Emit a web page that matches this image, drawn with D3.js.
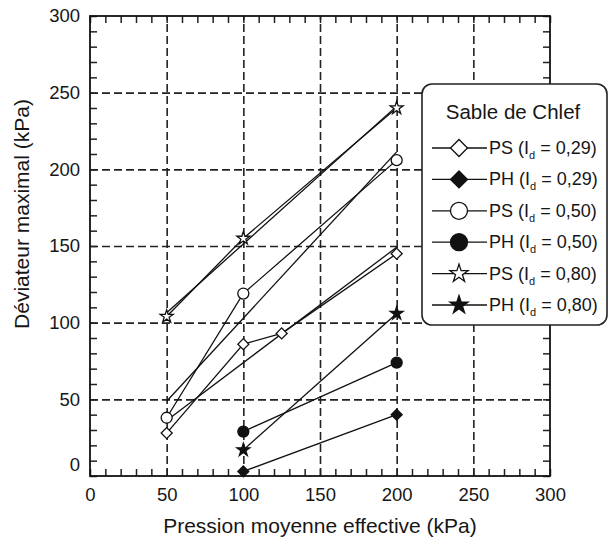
<!DOCTYPE html>
<html>
<head>
<meta charset="utf-8">
<script src="https://cdn.jsdelivr.net/npm/d3@7"></script>
<style>
body { margin: 0; background: #fff; }
text { font-family: "Liberation Sans", Arial, sans-serif; fill: #161616; }
</style>
</head>
<body>
<svg id="chart" width="610" height="540"></svg>
<script>

// axis ticks
var xTicks = [0, 50, 100, 150, 200, 250, 300];
var yTicks = [0, 50, 100, 150, 200, 250, 300];

// PS = open markers, PH = filled markers
var ps29X = [50, 100, 125, 200], ps29Y = [28, 86, 93, 145];
var ph29X = [100, 200],          ph29Y = [3, 40];
var ps50X = [50, 100, 200],      ps50Y = [38, 119, 206];
var ph50X = [100, 200],          ph50Y = [29, 74];
var ps80X = [50, 100, 200],      ps80Y = [104, 155, 240];
var ph80X = [100, 200],          ph80Y = [17, 106];

var legendTitle = "Sable de Chlef";
var idValues = ["0,29", "0,29", "0,50", "0,50", "0,80", "0,80"];
var testNames = ["PS", "PH", "PS", "PH", "PS", "PH"];

var series = [
	{xs: ps29X, ys: ps29Y, shape: "diamond", filled: false, trend: true},
	{xs: ph29X, ys: ph29Y, shape: "diamond", filled: true,  trend: false},
	{xs: ps50X, ys: ps50Y, shape: "circle",  filled: false, trend: true},
	{xs: ph50X, ys: ph50Y, shape: "circle",  filled: true,  trend: false},
	{xs: ps80X, ys: ps80Y, shape: "star",    filled: false, trend: true},
	{xs: ph80X, ys: ph80Y, shape: "star",    filled: true,  trend: false}
];

// (window.top is read-only, so no "top" here)
var pLeft = 90, pRight = 550, pTop = 16, pBottom = 476;
var svg = d3.select("#chart");

var x = d3.scaleLinear().domain([0, 300]).range([pLeft, pRight]);
var y = d3.scaleLinear().domain([0, 300]).range([pBottom, pTop]);

// dashed grid at the major ticks
var grid = svg.append("g").attr("class", "grid");
grid.append("g")
	.attr("transform", "translate(0," + pBottom + ")")
	.call(d3.axisBottom(x).tickValues(xTicks.slice(1, -1)).tickSize(-(pBottom - pTop)).tickFormat(""));
grid.append("g")
	.attr("transform", "translate(" + pLeft + ",0)")
	.call(d3.axisLeft(y).tickValues(yTicks.slice(1, -1)).tickSize(-(pRight - pLeft)).tickFormat(""));
grid.selectAll(".domain").remove();
grid.selectAll("line")
	.attr("stroke", "#222")
	.attr("stroke-width", 1.6)
	.attr("stroke-dasharray", "8,4");

// small inward ticks every 10 on all four sides
var minor = d3.range(0, 301, 10);
var ticks = svg.append("g").attr("class", "minor");
ticks.append("g").attr("transform", "translate(0," + pBottom + ")")
	.call(d3.axisBottom(x).tickValues(minor).tickSize(-7).tickFormat(""));
ticks.append("g").attr("transform", "translate(0," + pTop + ")")
	.call(d3.axisTop(x).tickValues(minor).tickSize(-7).tickFormat(""));
ticks.append("g").attr("transform", "translate(" + pLeft + ",0)")
	.call(d3.axisLeft(y).tickValues(minor).tickSize(-7).tickFormat(""));
ticks.append("g").attr("transform", "translate(" + pRight + ",0)")
	.call(d3.axisRight(y).tickValues(minor).tickSize(-7).tickFormat(""));
ticks.selectAll(".domain").remove();
ticks.selectAll("line").attr("stroke", "#222").attr("stroke-width", 1.5);

svg.append("rect")
	.attr("x", pLeft).attr("y", pTop)
	.attr("width", pRight - pLeft).attr("height", pBottom - pTop)
	.attr("fill", "none").attr("stroke", "#111").attr("stroke-width", 1.8);

// tick labels
var xLab = svg.append("g")
	.attr("transform", "translate(0," + pBottom + ")")
	.call(d3.axisBottom(x).tickValues(xTicks).tickSize(0).tickPadding(12));
var yLab = svg.append("g")
	.attr("transform", "translate(" + pLeft + ",0)")
	.call(d3.axisLeft(y).tickValues(yTicks).tickSize(0).tickPadding(10));
xLab.select(".domain").remove();
yLab.select(".domain").remove();
xLab.selectAll("text").style("font-size", "18.5px").attr("fill", "#161616")
	.style("font-family", "'Liberation Sans', Arial, sans-serif");
yLab.selectAll("text").style("font-size", "18.5px").attr("fill", "#161616")
	.style("font-family", "'Liberation Sans', Arial, sans-serif")
	.attr("dy", function(d) { return d === 0 ? "-0.3em" : "0.32em"; });

svg.append("text")
	.attr("x", 320).attr("y", 533)
	.attr("text-anchor", "middle")
	.style("font-size", "21px")
	.text("Pression moyenne effective (kPa)");
svg.append("text")
	.attr("transform", "translate(29,214) rotate(-90)")
	.attr("text-anchor", "middle")
	.style("font-size", "21px")
	.text("Déviateur maximal (kPa)");

// least squares line through a PS series
function fit(xs, ys) {
	var mx = d3.mean(xs), my = d3.mean(ys);
	var sxy = d3.sum(xs, function(v, i) { return (v - mx) * (ys[i] - my); });
	var sxx = d3.sum(xs, function(v) { return (v - mx) * (v - mx); });
	var b = sxy / sxx;
	return function(v) { return my + b * (v - mx); };
}

function symbolFor(shape, r) {
	if (shape === "diamond") return d3.symbol().type(d3.symbolSquare).size(2 * r * r)();
	if (shape === "circle") return d3.symbol().type(d3.symbolCircle).size(Math.PI * r * r)();
	return d3.symbol().type(d3.symbolStar).size(r * r / 0.8908130915292852)();
}
var plotR = {diamond: 5.5, circle: 5.5, star: 6.8};
var legR = {diamond: 8.5, circle: 8.5, star: 9.5};

var line = d3.line()
	.x(function(d) { return x(d[0]); })
	.y(function(d) { return y(d[1]); });

var marks = svg.append("g").attr("class", "series");
series.forEach(function(s) {
	var pts = s.xs.map(function(v, i) { return [v, s.ys[i]]; });
	marks.append("path")
		.attr("d", line(pts))
		.attr("fill", "none").attr("stroke", "#111").attr("stroke-width", 1.3);
	if (s.trend) {
		var f = fit(s.xs, s.ys);
		var ext = d3.extent(s.xs);
		marks.append("path")
			.attr("d", line([[ext[0], f(ext[0])], [ext[1], f(ext[1])]]))
			.attr("fill", "none").attr("stroke", "#111").attr("stroke-width", 1.3);
	}
});
series.forEach(function(s) {
	marks.append("g").selectAll("path")
		.data(s.xs.map(function(v, i) { return [v, s.ys[i]]; }))
		.join("path")
		.attr("d", symbolFor(s.shape, plotR[s.shape]))
		.attr("transform", function(d) {
			return "translate(" + x(d[0]) + "," + y(d[1]) + ")" + (s.shape === "diamond" ? " rotate(45)" : "");
		})
		.attr("fill", s.filled ? "#111" : "#fff")
		.attr("stroke", "#111").attr("stroke-width", 1.3);
});

// legend
var leg = svg.append("g").attr("class", "legend");
leg.append("rect")
	.attr("x", 422).attr("y", 84).attr("width", 185).attr("height", 241)
	.attr("rx", 10).attr("ry", 10)
	.attr("fill", "#fff").attr("stroke", "#222").attr("stroke-width", 1.6);
leg.append("text")
	.attr("x", 513).attr("y", 119)
	.attr("text-anchor", "middle")
	.style("font-size", "20.5px")
	.text(legendTitle);

var rows = leg.selectAll("g.row")
	.data(series)
	.join("g")
	.attr("class", "row")
	.attr("transform", function(d, i) { return "translate(0," + (148 + i * 31.4) + ")"; });
rows.append("line")
	.attr("x1", 432).attr("x2", 487)
	.attr("stroke", "#111").attr("stroke-width", 1.3);
rows.append("path")
	.attr("d", function(d) { return symbolFor(d.shape, legR[d.shape]); })
	.attr("transform", function(d) { return "translate(459,0)" + (d.shape === "diamond" ? " rotate(45)" : ""); })
	.attr("fill", function(d) { return d.filled ? "#111" : "#fff"; })
	.attr("stroke", "#111").attr("stroke-width", 1.3);
var lt = rows.append("text")
	.attr("x", 489).attr("y", 6)
	.style("font-size", "18px");
lt.append("tspan").text(function(d, i) { return testNames[i] + " (I"; });
lt.append("tspan").attr("dy", 5).style("font-size", "11px").text("d");
lt.append("tspan").attr("dy", -5).text(function(d, i) { return " = " + idValues[i] + ")"; });

</script>
</body>
</html>
